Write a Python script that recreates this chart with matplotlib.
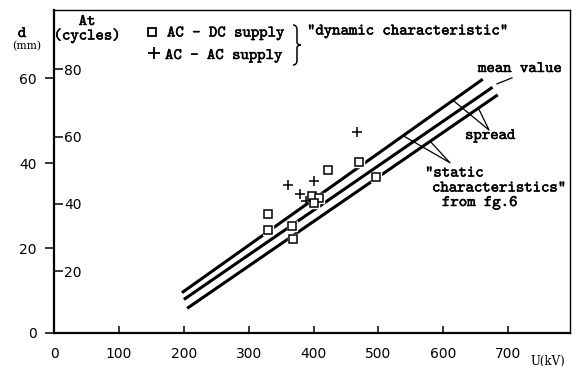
import numpy as np
import matplotlib
matplotlib.use("Agg")
import matplotlib.pyplot as plt
from matplotlib.path import Path
from matplotlib.patches import PathPatch
import matplotlib.patheffects as pe

W, H = 577, 366

# Measured breakdown distance d (mm) against voltage U (kV)
acdc_U = [470, 423, 496, 397, 409, 401, 330, 330, 366, 368]
acdc_d = [40.3, 38.3, 36.8, 32.2, 31.9, 30.7, 28.0, 24.2, 25.3, 22.2]
acac_U = [467, 360, 400, 379, 388]
acac_d = [47.3, 34.9, 35.9, 32.8, 31.0]

# Static characteristics: upper spread bound, mean value, lower spread bound
upper_U = [197, 661]
upper_d = [9.5, 59.8]
mean_U = [200, 676]
mean_d = [7.9, 57.9]
lower_U = [205, 684]
lower_d = [5.8, 56.1]

x_ticks = [0, 100, 200, 300, 400, 500, 600, 700]
d_ticks = [0, 20, 40, 60]
cycle_ticks = [20, 40, 60, 80]

TT = ["cmtt10", "DejaVu Sans Mono"]
TT_SIZE = 11.5
stroke = [pe.withStroke(linewidth=0.35, foreground="black")]

fig = plt.figure(figsize=(W / 100, H / 100), dpi=100)
ax = fig.add_axes([54 / W, (H - 333) / H, (570 - 54) / W, (333 - 10) / H])
ax.set_xlim(-0.3, 795.5)
ax.set_ylim(0.1, 76.1)

lw_main = 2.2
for U, d in [(upper_U, upper_d), (mean_U, mean_d), (lower_U, lower_d)]:
    ax.plot(U, d, color="black", lw=lw_main, solid_capstyle="butt", zorder=2)

# squares break the lines around them
ax.plot(acdc_U, acdc_d, ls="none", marker="s", ms=7.5, mfc="white", mec="white", zorder=3)
ax.plot(acdc_U, acdc_d, ls="none", marker="s", ms=5.2, mfc="white", mec="black", mew=1.1, zorder=4)
ax.plot(acac_U, acac_d, ls="none", marker="+", ms=7.5, mec="black", mew=1.1, zorder=4)

# leader lines for the annotations
leader = dict(color="black", lw=0.9, clip_on=False, zorder=2)
ax.plot([683, 706], [58.7, 60.1], **leader)
ax.plot([615.2, 670.7, 653.8], [54.8, 47.8, 53.1], **leader)
ax.plot([538, 610.5, 579.6], [46.5, 40.1, 45.2], **leader)

ax.set_xticks(x_ticks)
ax.set_yticks(d_ticks)
ax.tick_params(axis="x", direction="in", length=5, width=1.1, pad=10, labelsize=10)
ax.tick_params(axis="y", direction="out", length=6.5, width=1.1, pad=6, labelsize=10)
for s in ["left", "bottom"]:
    ax.spines[s].set_linewidth(1.6)
for s in ["top", "right"]:
    ax.spines[s].set_linewidth(1.0)


def d2c(d):
    return (np.asarray(d) + 1.25) / 0.792


def c2d(c):
    return np.asarray(c) * 0.792 - 1.25


# cycles scale: ticks and labels on the inner side of the left spine
sec = ax.secondary_yaxis(0.0, functions=(d2c, c2d))
sec.set_alignment("right")
sec.set_yticks(cycle_ticks)
sec.tick_params(direction="out", length=6.5, width=1.1, pad=1, labelsize=10)
for s in sec.spines.values():
    s.set_visible(False)


def ftext(x, y, s, **kw):
    opts = dict(family=TT, fontsize=TT_SIZE, va="baseline", ha="left", path_effects=stroke)
    opts.update(kw)
    fig.text(x / W, 1 - y / H, s, **opts)


ftext(22, 37, "d", ha="center")
ftext(27, 49.5, "(mm)", ha="center", family="DejaVu Serif", fontsize=7.8, path_effects=None)
ftext(87, 25, "At", ha="center")
ftext(87, 39.5, "(cycles)", ha="center")
ftext(167, 36.5, "AC - DC supply")
ftext(165, 59, "AC - AC supply")
ftext(307, 34.5, '"dynamic characteristic"')
ftext(478, 72, "mean value")
ftext(465, 139, "spread")
ftext(425, 176.5, '"static')
ftext(432, 191.5, 'characteristics"')
ftext(442, 206, "from fg.6")
ftext(530, 364.5, "U(kV)", family="DejaVu Serif", fontsize=8.5, path_effects=None)

# legend glyphs
fig.lines.append(plt.Line2D([152 / W], [1 - 32 / H], transform=fig.transFigure, ls="none",
                            marker="s", ms=5.2, mfc="white", mec="black", mew=1.3))
fig.lines.append(plt.Line2D([154 / W], [1 - 53 / H], transform=fig.transFigure, ls="none",
                            marker="+", ms=8, mec="black", mew=1.3))

# curly brace grouping the two supplies
bx, top, bot = 293, 25, 65
mid = (top + bot) / 2
pts = [(bx, top), (bx + 4, top), (bx + 4, top + 5), (bx + 4, mid - 3),
       (bx + 4, mid), (bx + 8, mid), (bx + 4, mid), (bx + 4, mid + 3),
       (bx + 4, bot - 5), (bx + 4, bot), (bx, bot)]
codes = [Path.MOVETO, Path.CURVE3, Path.CURVE3, Path.LINETO,
         Path.CURVE3, Path.CURVE3, Path.CURVE3, Path.CURVE3,
         Path.LINETO, Path.CURVE3, Path.CURVE3]
verts = [(x / W, 1 - y / H) for x, y in pts]
fig.patches.append(PathPatch(Path(verts, codes), transform=fig.transFigure,
                             fill=False, lw=1.1, color="black"))

fig.savefig("out.png", dpi=100, facecolor="white")
